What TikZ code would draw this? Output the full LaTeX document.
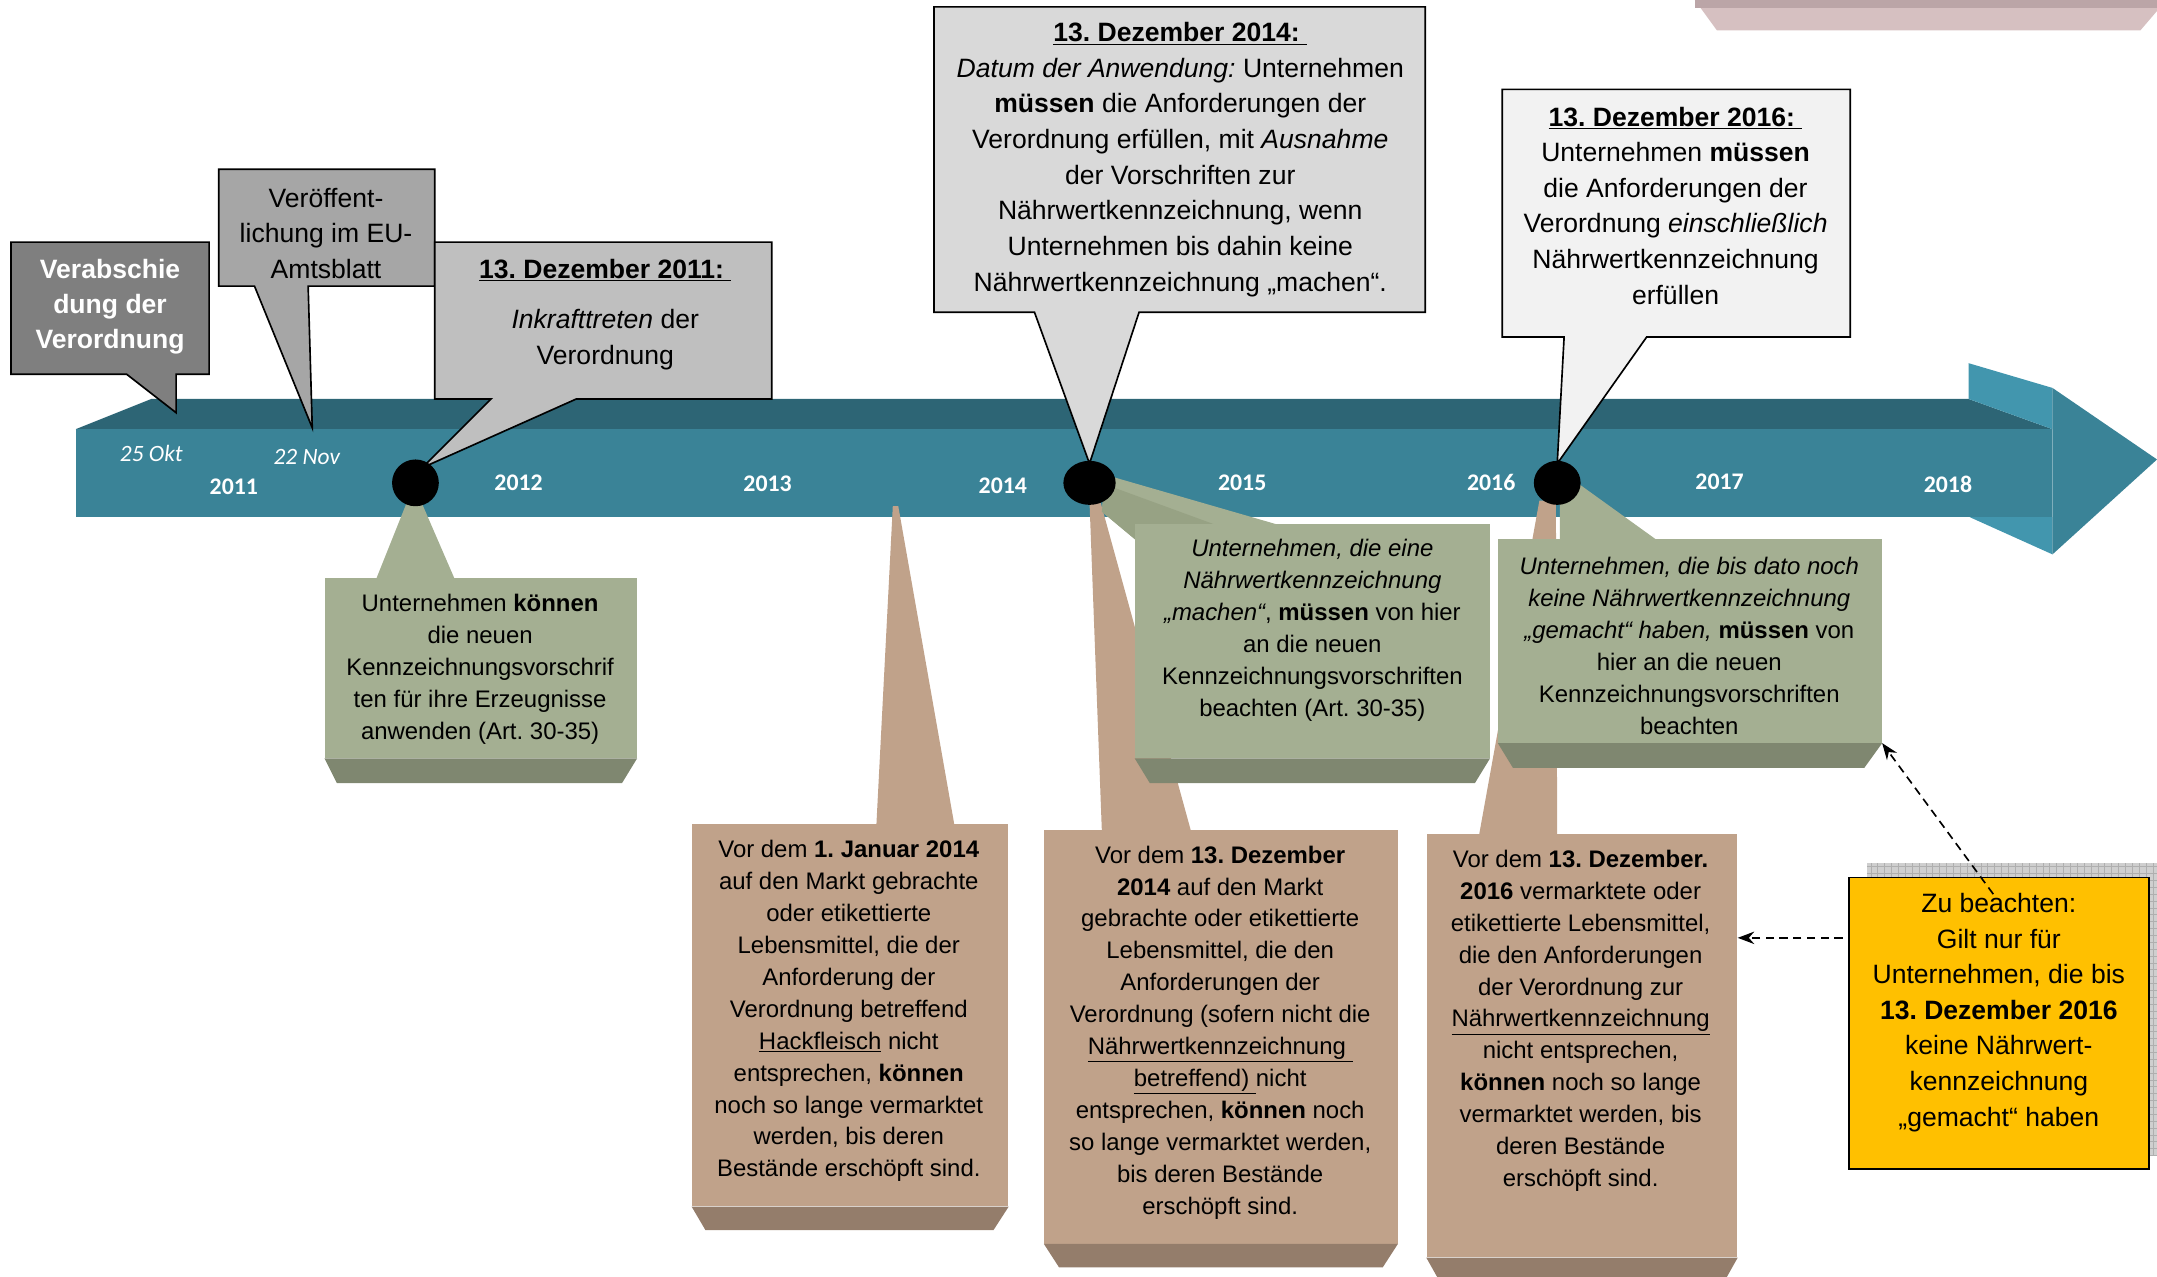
\documentclass[tikz,border=0pt]{standalone}
\usepackage{fontspec}
\setmainfont{Liberation Sans}
\newfontfamily\carlito{Carlito}
\usetikzlibrary{arrows.meta,calc,shapes.geometric}
\frenchspacing
\definecolor{barF}{HTML}{3A8397}
\definecolor{barT}{HTML}{2D6575}
\definecolor{barL}{HTML}{4296AE}
\definecolor{gA}{HTML}{7F7F7F}
\definecolor{gB}{HTML}{A6A6A6}
\definecolor{gC}{HTML}{BFBFBF}
\definecolor{gD}{HTML}{D9D9D9}
\definecolor{gE}{HTML}{F2F2F2}
\definecolor{grnF}{HTML}{A4AF92}
\definecolor{grnB}{HTML}{7F8770}
\definecolor{grnD}{HTML}{97A284}
\definecolor{tanF}{HTML}{C0A28A}
\definecolor{tanB}{HTML}{947D6B}
\definecolor{ylw}{HTML}{FFC000}
\definecolor{pinkL}{HTML}{D6C0C1}
\definecolor{pinkD}{HTML}{BBA5A7}
\definecolor{shd}{HTML}{CFCFCF}
\definecolor{shdL}{HTML}{AFAFAF}
\begin{document}
\frenchspacing
\begin{tikzpicture}[x=1pt,y=-1pt,
  callout/.style={draw=black,line width=1.2pt,line join=miter},
  txt/.style={align=center,inner sep=0pt,font=\frenchspacing\fontsize{19.3}{25.9}\selectfont},
  stxt/.style={align=center,inner sep=0pt,font=\frenchspacing\fontsize{17.4}{23.2}\selectfont},
  yr/.style={text=white,inner sep=0pt,font=\carlito\bfseries\fontsize{17.3}{20}\selectfont},
  dt/.style={text=white,inner sep=0pt,font=\carlito\itshape\fontsize{17}{20}\selectfont},
  gfront/.style={fill=grnF,inner sep=0pt,draw=none},
  tfront/.style={fill=tanF,inner sep=0pt,draw=none},
  dot/.style={fill=black,ellipse,inner sep=0pt},
  dasharr/.style={dash pattern=on 6pt off 4pt,line width=1.2pt,-{Stealth[length=12pt,width=9pt]}}
]
\useasboundingbox (0,0) rectangle (1568,928);

% pink shape top right
\fill[pinkL] (1232,0) -- (1568,0) -- (1568,8) -- (1556,22) -- (1248,22) -- cycle;
\fill[pinkD] (1232,0) rectangle (1568,6);

% timeline bar
\fill[barT] (55,312) -- (110,290) -- (1431,290) -- (1492,312) -- cycle;
\fill[barF] (55,312) rectangle (1492,376);
\fill[barL] (1431,264) -- (1492,282) -- (1492,312) -- (1431,290) -- cycle;
\fill[barL] (1432,376) -- (1492,376) -- (1492,403) -- cycle;
\fill[barF] (1492,282) -- (1568,334) -- (1492,403) -- cycle;

% labels on the bar
\node[dt] (okt) at (110,330) {25 Okt};
\node[dt] (nov) at (223,332) {22 Nov};
\node[yr] (y11) at (170,354) {2011};
\node[yr] (y12) at (377,351) {2012};
\node[yr] (y13) at (558,352) {2013};
\node[yr] (y14) at (729,353) {2014};
\node[yr] (y15) at (903,351) {2015};
\node[yr] (y16) at (1084,351) {2016};
\node[yr] (y17) at (1250,350) {2017};
\node[yr] (y18) at (1416,352) {2018};

% tan pointers
\fill[tanF] (649,368) -- (653,368) -- (694,601) -- (637,601) -- cycle;
\fill[tanF] (792,365) -- (800,365) -- (866,605) -- (801,605) -- cycle;
\fill[tanF] (1119,364) -- (1131,364) -- (1132,608) -- (1075,608) -- cycle;

% tan boxes
\node[tfront,minimum width=230pt,minimum height=278pt] (t1) at (618,738) {};
\fill[tanB] (t1.south west) -- (t1.south east) -- ++(-11,17) -- ($(t1.south west)+(10,17)$) -- cycle;
\node[tfront,minimum width=257pt,minimum height=301pt] (t2) at (887.5,753.5) {};
\fill[tanB] (t2.south west) -- (t2.south east) -- ++(-11,17) -- ($(t2.south west)+(11,17)$) -- cycle;
\node[tfront,minimum width=226pt,minimum height=308pt] (t3) at (1150,760) {};
\fill[tanB] (t3.south west) -- (t3.south east) -- ++(-9,16) -- ($(t3.south west)+(9,16)$) -- cycle;

\node[stxt] (tt1) at (617,735) {Vor dem \textbf{1. Januar 2014}\\auf den Markt gebrachte\\oder etikettierte\\Lebensmittel, die der\\Anforderung der\\Verordnung betreffend\\\underline{Hackfleisch} nicht\\entsprechen, \textbf{können}\\noch so lange vermarktet\\werden, bis deren\\Bestände erschöpft sind.};
\node[stxt] (tt2) at (887,750.5) {Vor dem \textbf{13. Dezember}\\\textbf{2014} auf den Markt\\gebrachte oder etikettierte\\Lebensmittel, die den\\Anforderungen der\\Verordnung (sofern nicht die\\\underline{Nährwertkennzeichnung\ }\\\underline{betreffend)\ }nicht\\entsprechen, \textbf{können} noch\\so lange vermarktet werden,\\bis deren Bestände\\erschöpft sind.};
\node[stxt] (tt3) at (1149,742) {Vor dem \textbf{13. Dezember.}\\\textbf{2016} vermarktete oder\\etikettierte Lebensmittel,\\die den Anforderungen\\der Verordnung zur\\\underline{Nährwertkennzeichnung}\\nicht entsprechen,\\\textbf{können} noch so lange\\vermarktet werden, bis\\deren Bestände\\erschöpft sind.};

% green pointers
\fill[grnF] (297,362) -- (305,362) -- (331,422) -- (273,422) -- cycle;
\fill[grnF] (803,345) -- (931,382) -- (825,382) -- (825,392) -- (801,372) -- cycle;
\fill[grnD] (803,352) -- (885,382) -- (825,382) -- (825,392) -- (801,372) -- cycle;
\fill[grnF] (1134,393) -- (1134,362) -- (1148,352) -- (1205,393) -- cycle;

% green boxes
\node[gfront,minimum width=227pt,minimum height=131pt] (g1) at (349.5,485.5) {};
\fill[grnB] (g1.south west) -- (g1.south east) -- ++(-11,18) -- ($(g1.south west)+(9,18)$) -- cycle;
\node[gfront,minimum width=258pt,minimum height=170pt] (g2) at (954,466) {};
\fill[grnB] (g2.south west) -- (g2.south east) -- ++(-11,18) -- ($(g2.south west)+(11,18)$) -- cycle;
\node[gfront,minimum width=279pt,minimum height=148pt] (g3) at (1228.5,466) {};
\fill[grnB] (g3.south west) -- (g3.south east) -- ++(-13,18) -- ($(g3.south west)+(11,18)$) -- cycle;

\node[stxt] (gt1) at (349,486.5) {Unternehmen \textbf{können}\\die neuen\\Kennzeichnungsvorschrif\\ten für ihre Erzeugnisse\\anwenden (Art. 30-35)};
\node[stxt] (gt2) at (954,458) {\textit{Unternehmen, die eine}\\\textit{Nährwertkennzeichnung}\\\textit{„machen“}, \textbf{müssen} von hier\\an die neuen\\Kennzeichnungsvorschriften\\beachten (Art. 30-35)};
\node[stxt] (gt3) at (1228,469.5) {\textit{Unternehmen, die bis dato noch}\\\textit{keine Nährwertkennzeichnung}\\\textit{„gemacht“ haben,} \textbf{müssen} von\\hier an die neuen\\Kennzeichnungsvorschriften\\beachten};

% upper callouts
\filldraw[callout,fill=gA] (8,176) -- (152,176) -- (152,272) -- (128,272) -- (128,300) -- (92,272) -- (8,272) -- cycle;
\node[txt,text=white,font=\fontsize{19.3}{25.5}\selectfont\bfseries] (c1) at (80,223) {Verabschie\\dung der\\Verordnung};

\filldraw[callout,fill=gB] (159,123) -- (316,123) -- (316,208) -- (224,208) -- (227,311) -- (185,208) -- (159,208) -- cycle;
\node[txt] (c2) at (237,169.5) {Veröffent-\\lichung im EU-\\Amtsblatt};

\filldraw[callout,fill=gC] (316,176) -- (561,176) -- (561,290) -- (419,290) -- (307,340) -- (357,290) -- (316,290) -- cycle;
\node[txt] (c3) at (440,228.5) {\underline{\textbf{13. Dezember 2011:}\ }\\[11pt]\textit{Inkrafttreten} der\\Verordnung};

\filldraw[callout,fill=gD] (679,5) -- (1036,5) -- (1036,227) -- (828,227) -- (792,337) -- (752,227) -- (679,227) -- cycle;
\node[txt] (c4) at (858,116) {\underline{\textbf{13. Dezember 2014:}\ }\\\textit{Datum der Anwendung:} Unternehmen\\\textbf{müssen} die Anforderungen der\\Verordnung erfüllen, mit \textit{Ausnahme}\\der Vorschriften zur\\Nährwertkennzeichnung, wenn\\Unternehmen bis dahin keine\\Nährwertkennzeichnung „machen“.};

\filldraw[callout,fill=gE] (1092,65) -- (1345,65) -- (1345,245) -- (1197,245) -- (1132,337) -- (1137,245) -- (1092,245) -- cycle;
\node[txt] (c5) at (1218,149.5) {\underline{\textbf{13. Dezember 2016:}\ }\\Unternehmen \textbf{müssen}\\die Anforderungen der\\Verordnung \textit{einschließlich}\\Nährwertkennzeichnung\\erfüllen};

% dots
\node[dot,minimum width=34pt,minimum height=34pt] (d1) at (302,351) {};
\node[dot,minimum width=38pt,minimum height=32pt] (d2) at (792,351) {};
\node[dot,minimum width=34pt,minimum height=32pt] (d3) at (1132,351) {};

% yellow note with hatched shadow
\fill[shd] (1357,627) rectangle (1568,840);
\draw[shdL,line width=0.5pt,step=5pt] (1357,627) grid (1568,840);
\node[fill=ylw,draw=black,line width=1.2pt,inner sep=0pt,minimum width=218pt,minimum height=212pt] (ylw) at (1453,744) {};
\node[txt] (yt) at (1453,736) {Zu beachten:\\Gilt nur für\\Unternehmen, die bis\\\textbf{13. Dezember 2016}\\keine Nährwert-\\kennzeichnung\\„gemacht“ haben};

% dashed arrows
\coordinate (a1s) at ($(ylw.north west)!0.208!(ylw.south west)+(-4,0)$);
\draw[dasharr] (a1s) -- (a1s -| t3.east);
\coordinate (a2s) at (1449,650);
\draw[dasharr] (a2s) -- (g3.south east);
\end{tikzpicture}
\end{document}
